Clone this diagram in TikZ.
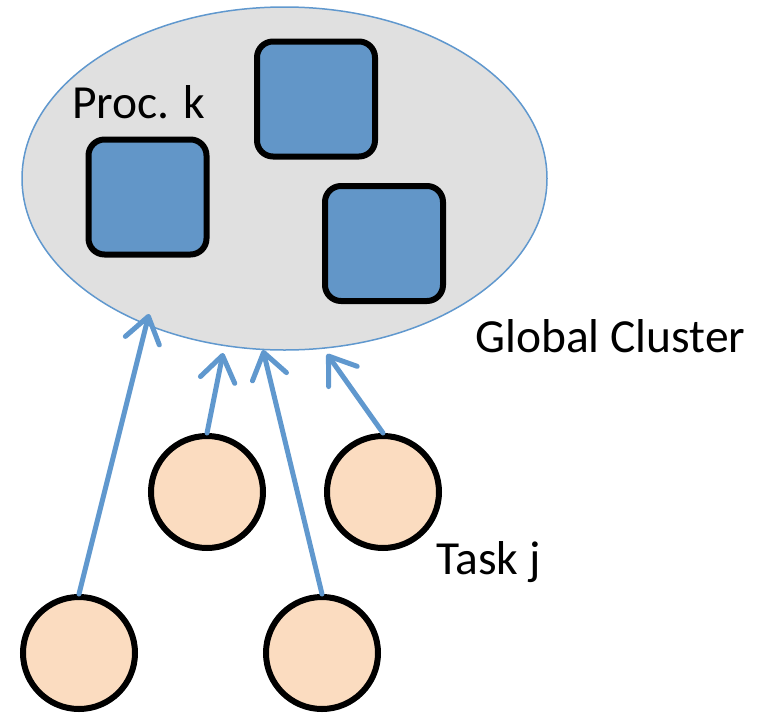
\documentclass[tikz,border=0pt]{standalone}
\usepackage{fontspec}
\setmainfont{Carlito}
\usetikzlibrary{shapes.geometric,arrows.meta}
\definecolor{clusterfill}{RGB}{224,224,224}
\definecolor{linkblue}{RGB}{96,152,206}
\definecolor{procfill}{RGB}{98,150,200}
\definecolor{taskfill}{RGB}{251,220,192}
\tikzset{
  procbox/.style={draw=black, line width=6pt, fill=procfill, rounded corners=16pt,
    minimum width=118pt, minimum height=115pt, inner sep=0pt},
  taskdot/.style={circle, draw=black, line width=6pt, fill=taskfill,
    minimum size=112pt, inner sep=0pt},
  link/.style={draw=linkblue, line width=5pt, line cap=round,
    -{Straight Barb[length=25pt, width=35pt, line cap=round, line join=round]}},
  lbl/.style={font=\fontsize{47.5}{52}\selectfont, anchor=base west, inner sep=0pt}
}
\begin{document}
\begin{tikzpicture}[x=1pt, y=-1pt]
  \useasboundingbox (0,0) rectangle (760,712);
  % the cluster
  \node[ellipse, draw=linkblue, line width=1.5pt, fill=clusterfill,
        minimum width=525pt, minimum height=343pt, inner sep=0pt] (cluster) at (284.5,178.5) {};
  % processors
  \node[procbox] (p1) at (147.5,197) {};
  \node[procbox] (p2) at (316,99) {};
  \node[procbox] (p3) at (384,243.5) {};
  % tasks
  \node[taskdot] (t1) at (207,492) {};
  \node[taskdot] (t2) at (383,492) {};
  \node[taskdot] (t3) at (79,653) {};
  \node[taskdot] (t4) at (322,653) {};
  % where the links reach the cluster
  \coordinate (e1) at (149,314);
  \coordinate (e2) at (223,353);
  \coordinate (e3) at (263,350);
  \coordinate (e4) at (327,354);
  % links
  \draw[link] (t3.north) -- (e1);
  \draw[link] (t1.north) -- (e2);
  \draw[link] (t4.north) -- (e3);
  \draw[link] (t2.north) -- (e4);
  % labels
  \node[lbl] (lproc) at (72,118) {Proc. k};
  \node[lbl] (lcluster) at (475,352) {Global Cluster};
  \node[lbl] (ltask) at (436,574) {Task j};
\end{tikzpicture}
\end{document}
